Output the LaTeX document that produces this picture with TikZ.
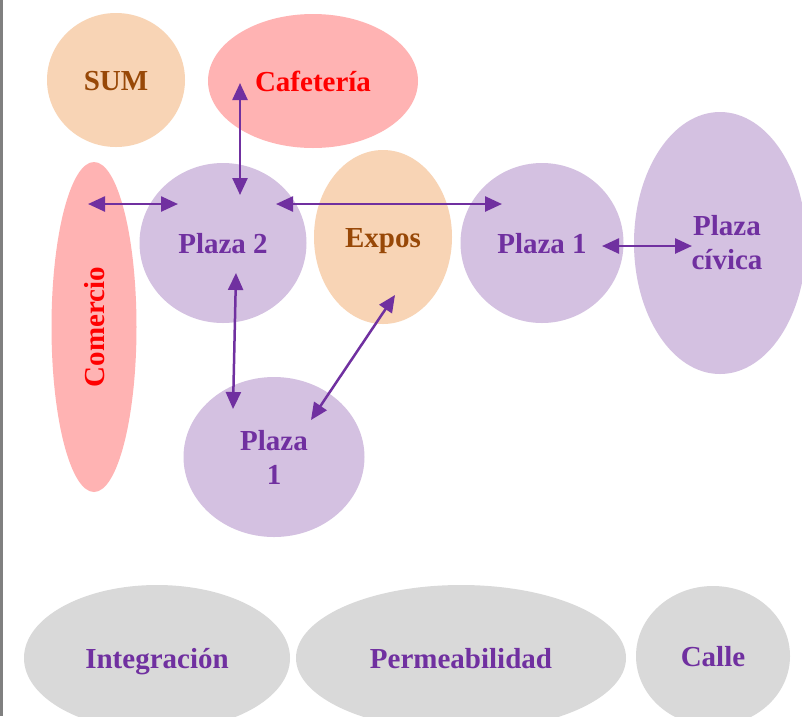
\documentclass[tikz,border=0pt]{standalone}
\usepackage{fontspec}
\setmainfont{Liberation Serif}
\usetikzlibrary{shapes.geometric,arrows.meta,calc}
\definecolor{lavender}{HTML}{D4C1E1}
\definecolor{peach}{HTML}{F8D4B5}
\definecolor{rose}{HTML}{FFB3B3}
\definecolor{lightgray}{HTML}{D9D9D9}
\definecolor{deeppurple}{HTML}{7030A0}
\definecolor{rust}{HTML}{984807}
\tikzset{
  blob/.style={ellipse, inner sep=0pt, draw=none, align=center,
    font=\fontsize{29}{34}\selectfont\bfseries},
  oneline/.style={text height=25pt, text depth=4pt},
  plaza/.style={blob, fill=lavender, text=deeppurple},
  peachblob/.style={blob, oneline, fill=peach, text=rust},
  roseblob/.style={blob, oneline, fill=rose, text=red},
  grayblob/.style={blob, oneline, fill=lightgray, text=deeppurple},
  biarrow/.style={draw=deeppurple, line width=2.5pt,
    {Triangle[length=17pt,width=15pt]}-{Triangle[length=17pt,width=15pt]}}
}
\begin{document}
\begin{tikzpicture}[x=1pt,y=-1pt]
\useasboundingbox (0,0) rectangle (802,716);
\clip (0,0) rectangle (802,716);
\fill[white] (0,0) rectangle (802,716);
% left frame line
\draw[gray, line width=2.5pt] (1.25,0) -- (1.25,716);

% upper row
\node[peachblob, minimum width=138pt, minimum height=134pt] (sum) at (116,80) {SUM};
\node[roseblob, minimum width=210pt, minimum height=134pt] (cafe) at (313,81) {Cafetería};

% commerce strip, set upright
\node[roseblob, rotate=90, minimum width=330pt, minimum height=85pt] (com) at (94,327) {Comercio};

% middle row
\node[plaza, oneline, minimum width=167pt, minimum height=160pt] (p2) at (223,243) {Plaza 2};
\node[peachblob, minimum width=138pt, minimum height=174pt] (expos) at (383,237) {Expos};
\node[plaza, oneline, minimum width=163pt, minimum height=160pt] (p1) at (542,243) {Plaza 1};
\node[plaza, minimum width=172pt, minimum height=262pt] (civ) at (720,243) {\hspace*{14pt}Plaza\\\hspace*{14pt}cívica};

% lower plaza
\node[plaza, minimum width=181pt, minimum height=160pt] (pb) at (274,457) {Plaza\\1};

% bottom row
\node[grayblob, minimum width=266pt, minimum height=146pt] (integ) at (157,658) {Integración};
\node[grayblob, minimum width=330pt, minimum height=146pt] (perm) at (461,658) {Permeabilidad};
\node[grayblob, minimum width=154pt, minimum height=140pt] (calle) at (713,656) {Calle};

% connections
\draw[biarrow] ($(cafe.center)+(-73,2)$) -- ($(p2.center)+(17,-48)$);
\draw[biarrow] ($(com.center)+(-6,-123)$) -- ($(p2.center)+(-45,-39)$);
\draw[biarrow] ($(p2.center)+(53,-39)$) -- ($(p1.center)+(-40,-39)$);
\draw[biarrow] ($(p2.center)+(13,30)$) -- ($(pb.center)+(-41,-48)$);
\draw[biarrow] ($(expos.center)+(12,58)$) -- ($(pb.center)+(37,-37)$);
\draw[biarrow] ($(p1.center)+(60,3)$) -- ($(civ.center)+(-28,3)$);
\end{tikzpicture}
\end{document}
